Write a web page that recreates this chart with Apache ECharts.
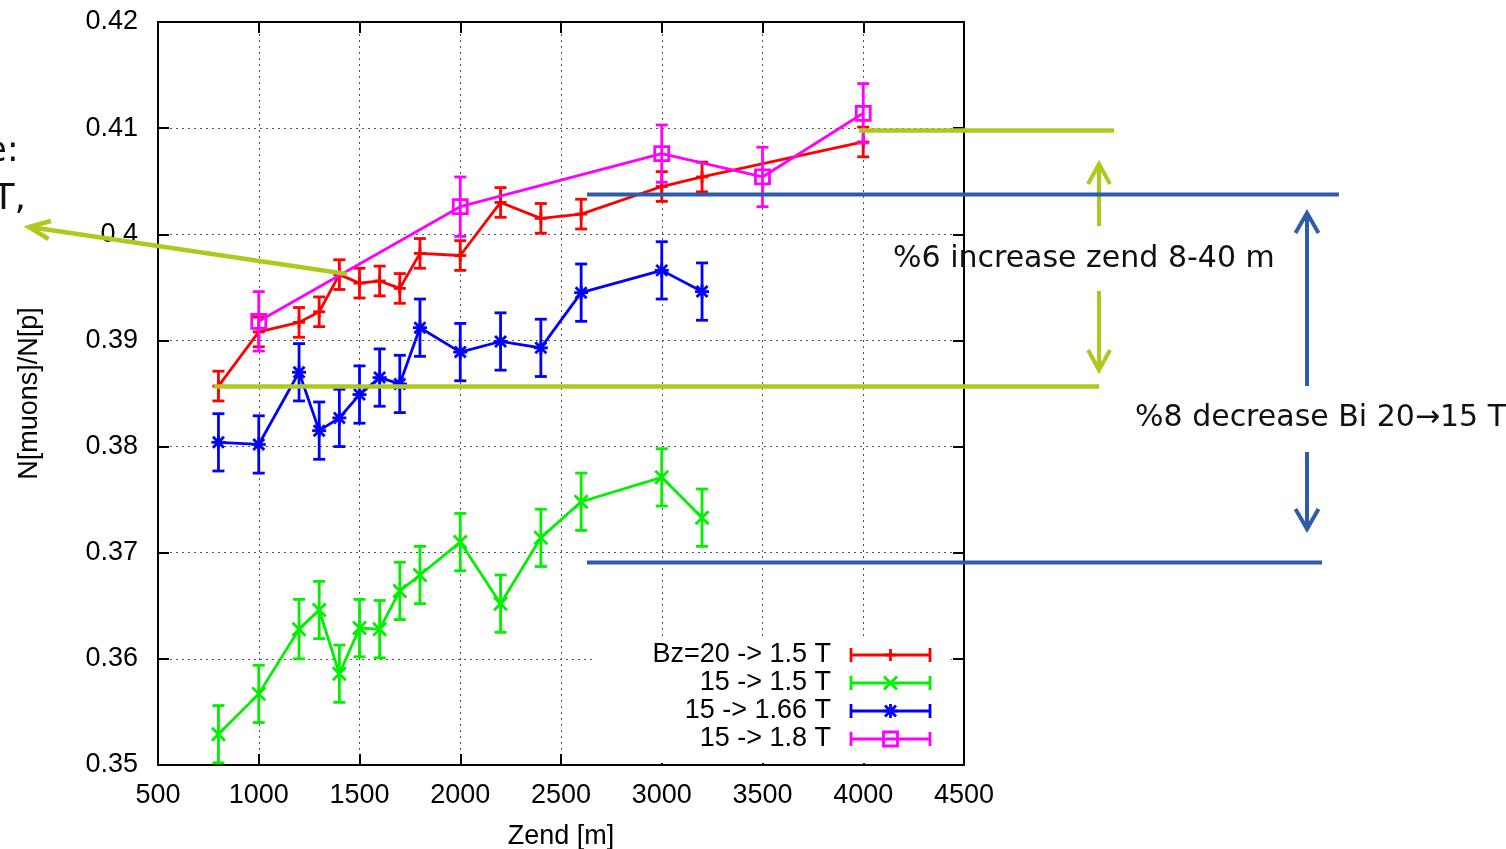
<!DOCTYPE html>
<html><head><meta charset="utf-8">
<script src="https://cdn.jsdelivr.net/npm/echarts@6/dist/echarts.min.js"></script>
<style>html,body{margin:0;padding:0;background:#fff;overflow:hidden}#c{width:1506px;height:849px}</style>
</head><body><div id="c"></div>
<script>
// ---- data ----
const zendRed   = [800,1000,1200,1300,1400,1500,1600,1700,1800,2000,2200,2400,2600,3000,3200,4000];
const ratioRed  = [0.3857,0.3908,0.3917,0.3927,0.3962,0.3954,0.3956,0.3949,0.3982,0.3980,0.4030,0.4015,0.4019,0.4045,0.4054,0.4087];
const errRed    = [0.0014,0.0014,0.0014,0.0014,0.0014,0.0014,0.0014,0.0014,0.0014,0.0014,0.0014,0.0014,0.0014,0.0014,0.0014,0.0014];

const zendGreen  = [800,1000,1200,1300,1400,1500,1600,1700,1800,2000,2200,2400,2600,3000,3200];
const ratioGreen = [0.3529,0.3567,0.3628,0.3646,0.3586,0.3629,0.3628,0.3664,0.3679,0.3710,0.3652,0.3714,0.3748,0.3771,0.3733];
const errGreen   = [0.0027,0.0027,0.0028,0.0027,0.0027,0.0027,0.0027,0.0027,0.0027,0.0027,0.0027,0.0027,0.0027,0.0027,0.0027];

const zendBlue  = [800,1000,1200,1300,1400,1500,1600,1700,1800,2000,2200,2400,2600,3000,3200];
const ratioBlue = [0.3804,0.3802,0.3870,0.3815,0.3827,0.3849,0.3865,0.3859,0.3912,0.3889,0.3899,0.3893,0.3945,0.3966,0.3946];
const errBlue   = [0.0027,0.0027,0.0027,0.0027,0.0027,0.0027,0.0027,0.0027,0.0027,0.0027,0.0027,0.0027,0.0027,0.0027,0.0027];

const zendMag  = [1000,2000,3000,3500,4000];
const ratioMag = [0.3918,0.4026,0.4076,0.4054,0.4114];
const errMag   = [0.0028,0.0028,0.0027,0.0028,0.0028];

const seriesNames = ['Bz=20 -> 1.5 T','15 -> 1.5 T','15 -> 1.66 T','15 -> 1.8 T'];
const seriesColors = ['#ff0000','#00f000','#0000ff','#ff00ff'];
const seriesSymbols = ['plus','cross','star','square'];
const xTicks = {min:500, max:4500, step:500};
const yTicks = {min:0.35, max:0.42, step:0.01};

const annotationTop = '%6 increase zend 8-40 m';
const annotationMid = '%8 decrease Bi 20\u219215 T';

// ---- drawing ----
const FONT = '"Liberation Sans", Arial, sans-serif';
const SLIDEFONT = '"DejaVu Sans", sans-serif';
const LW = 2.8;

function symbolShapes(type, cx, cy, color) {
  const st = {stroke: color, lineWidth: LW, fill: null};
  const L = (x1,y1,x2,y2) => ({type:'line', shape:{x1,y1,x2,y2}, style:st});
  const plus = r => [L(cx-r,cy,cx+r,cy), L(cx,cy-r,cx,cy+r)];
  const cross = r => [L(cx-r,cy-r,cx+r,cy+r), L(cx-r,cy+r,cx+r,cy-r)];
  if (type === 'plus') return plus(6);
  if (type === 'cross') return cross(6.5);
  if (type === 'star') return cross(5.5).concat(plus(7));
  return [{type:'rect', shape:{x:cx-7,y:cy-7,width:14,height:14}, style:{stroke:color, lineWidth:LW, fill:'none'}}];
}

function zip3(a,b,c){ return a.map((v,i)=>[v,b[i],c[i]]); }
const sets = [
  zip3(zendRed, ratioRed, errRed),
  zip3(zendGreen, ratioGreen, errGreen),
  zip3(zendBlue, ratioBlue, errBlue),
  zip3(zendMag, ratioMag, errMag)
];

const series = [];
sets.forEach((d, k) => {
  const color = seriesColors[k];
  series.push({
    type:'line', name: seriesNames[k], data: d.map(r=>[r[0],r[1]]),
    showSymbol:false, lineStyle:{color, width:LW}, itemStyle:{color},
    z: 2 + k*2, animation:false, silent:true
  });
  series.push({
    type:'custom', name: seriesNames[k] + ' err', data: d, z: 3 + k*2,
    encode:{x:0, y:1}, animation:false, silent:true,
    renderItem: (params, api) => {
      const x = api.value(0), y = api.value(1), e = api.value(2);
      const p = api.coord([x,y]);
      const t = api.coord([x,y+e]);
      const b = api.coord([x,y-e]);
      const st = {stroke: color, lineWidth: LW};
      const children = [
        {type:'line', shape:{x1:p[0],y1:t[1],x2:p[0],y2:b[1]}, style:st},
        {type:'line', shape:{x1:p[0]-6,y1:t[1],x2:p[0]+6,y2:t[1]}, style:st},
        {type:'line', shape:{x1:p[0]-6,y1:b[1],x2:p[0]+6,y2:b[1]}, style:st}
      ].concat(symbolShapes(seriesSymbols[k], p[0], p[1], color));
      return {type:'group', children};
    }
  });
});

// legend (gnuplot-style key, drawn as graphics)
const legendGraphics = [
  {type:'rect', shape:{x:594, y:640, width:357, height:123}, style:{fill:'#fff'}, z:1, silent:true}
];
const legendRows = [655, 683, 711, 739];
seriesNames.forEach((n, k) => {
  const y = legendRows[k], c = seriesColors[k];
  const st = {stroke:c, lineWidth:LW};
  legendGraphics.push({type:'text', x:831, y:y, z:50, style:{text:n, font:'27px '+FONT, fill:'#000', align:'right', verticalAlign:'middle'}});
  legendGraphics.push({type:'line', z:50, shape:{x1:851,y1:y,x2:930,y2:y}, style:st});
  legendGraphics.push({type:'line', z:50, shape:{x1:851,y1:y-7,x2:851,y2:y+7}, style:st});
  legendGraphics.push({type:'line', z:50, shape:{x1:930,y1:y-7,x2:930,y2:y+7}, style:st});
  symbolShapes(seriesSymbols[k], 890.5, y, c).forEach(s => { s.z = 50; legendGraphics.push(s); });
});

// slide annotations overlaid on the plot
const G = '#afc81e', B = '#2f5ca8';
const ln = (x1,y1,x2,y2,c,w) => ({type:'line', z:100, silent:true, shape:{x1,y1,x2,y2}, style:{stroke:c, lineWidth:w, lineCap:'butt'}});
const head = (pts,c,w) => ({type:'polyline', z:100, silent:true, shape:{points:pts}, style:{stroke:c, lineWidth:w, fill:null, lineJoin:'miter'}});
const annot = [
  ln(347,274,30,227,G,4.5),
  head([[51,221],[29,227],[48.5,239]],G,4.5),
  ln(859,130.5,1114,130.5,G,4.5),
  ln(214,386.5,1099,386.5,G,4.5),
  ln(1099,226,1099,166,G,4),
  head([[1088,184],[1099,164],[1110,184]],G,4),
  ln(1099,291,1099,367,G,4),
  head([[1088,350],[1099,370],[1110,350]],G,4),
  ln(587,194.5,1339,194.5,B,4),
  ln(587,562.5,1322,562.5,B,4),
  ln(1307,386,1307,215,B,4),
  head([[1295.5,233],[1307,213],[1318.5,233]],B,4),
  ln(1307,452,1307,527,B,4),
  head([[1295.5,509],[1307,529],[1318.5,509]],B,4),
  {type:'text', z:101, x:893, y:259, style:{text:annotationTop, font:'30px '+SLIDEFONT, fill:'#111', align:'left', verticalAlign:'middle'}},
  {type:'text', z:101, x:1135, y:418, style:{text:annotationMid, font:'30px '+SLIDEFONT, fill:'#111', align:'left', verticalAlign:'middle'}},
  {type:'text', z:101, x:19, y:152, style:{text:'e:', font:'36px '+SLIDEFONT, fill:'#111', align:'right', verticalAlign:'middle'}},
  {type:'text', z:101, x:26, y:200, style:{text:'T,', font:'36px '+SLIDEFONT, fill:'#111', align:'right', verticalAlign:'middle'}}
];

const axisLineStyle = {color:'#000', width:2};
const tickStyle = {show:true, inside:true, length:11, lineStyle:{color:'#000', width:2}};
const gridLine = {show:true, lineStyle:{color:'#555', width:1, type:[2,4]}};
const labelStyle = {fontSize:27, fontFamily:FONT, color:'#000'};
const nameStyle = {fontSize:27, fontFamily:FONT, color:'#000'};

const chart = echarts.init(document.getElementById('c'), null, {renderer:'canvas', width:1506, height:849});
chart.setOption({
  backgroundColor:'#fff',
  animation:false,
  grid:{left:158, top:22, width:806, height:743, containLabel:false, outerBoundsMode:'none'},
  xAxis:[
    {type:'value', position:'bottom', min:xTicks.min, max:xTicks.max, interval:xTicks.step,
     axisLine:{show:true, onZero:false, lineStyle:axisLineStyle}, axisTick:tickStyle,
     axisLabel:Object.assign({margin:17, formatter:v => String(v)}, labelStyle), splitLine:gridLine,
     name:'Zend [m]', nameLocation:'middle', nameGap:58, nameTextStyle:nameStyle},
    {type:'value', position:'top', min:xTicks.min, max:xTicks.max, interval:xTicks.step,
     axisLine:{show:true, onZero:false, lineStyle:axisLineStyle}, axisTick:tickStyle,
     axisLabel:{show:false}, splitLine:{show:false}}
  ],
  yAxis:[
    {type:'value', position:'left', min:yTicks.min, max:yTicks.max, interval:yTicks.step,
     axisLine:{show:true, onZero:false, lineStyle:axisLineStyle}, axisTick:tickStyle,
     axisLabel:Object.assign({margin:20, formatter:v => String(+v.toFixed(2))}, labelStyle), splitLine:gridLine,
     name:'N[muons]/N[p]', nameLocation:'middle', nameGap:115, nameRotate:90,
     nameTextStyle:nameStyle},
    {type:'value', position:'right', min:yTicks.min, max:yTicks.max, interval:yTicks.step,
     axisLine:{show:true, onZero:false, lineStyle:axisLineStyle}, axisTick:tickStyle,
     axisLabel:{show:false}, splitLine:{show:false}}
  ],
  series,
  graphic: legendGraphics.concat(annot)
});
</script></body></html>
